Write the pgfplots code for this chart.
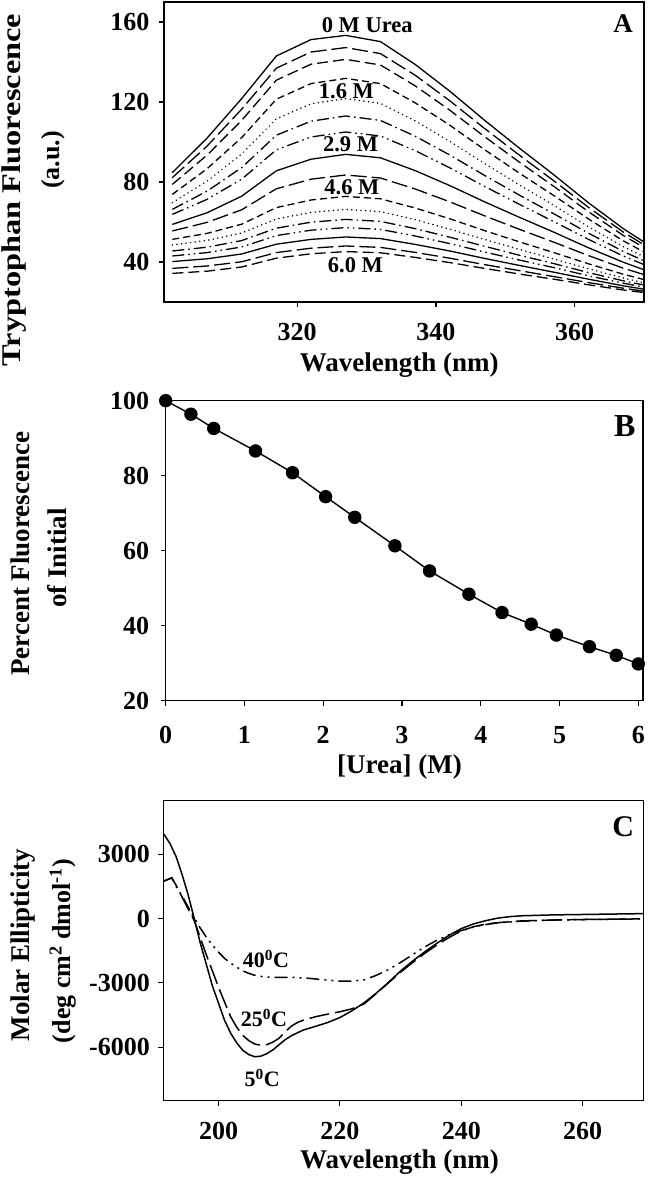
\documentclass[border=0pt]{standalone}
\usepackage{fontspec}
\setmainfont{Liberation Serif}
\usepackage{graphicx}
\usepackage{pgfplots}
\usepackage{pgfplotstable}
\pgfplotsset{compat=1.18}

\pgfplotstableread{
nm  c1    c2    c3    c4    c5    c6    c7    c8   c9   c10  c11  c12  c13  c14  c15  c16
302 84.7  82.2  78.8  73.8  69.7  66.3  63.8  58.8 55.5 51.3 48.5 45.5 43.0 40.2 36.8 34.3
307 101.9 97.9  93.4  86.6  80.4  75.4  71.3  64.6 59.8 54.3 50.8 47.4 44.7 41.6 38.0 35.4
312 121.7 116.4 110.8 102.2 94.0  87.2  81.4  72.9 66.1 58.9 54.5 50.7 47.5 44.0 40.1 37.5
317 143.0 136.9 130.9 121.4 111.6 103.4 96.1  85.6 76.6 67.2 61.5 56.9 53.2 48.9 44.7 41.9
322 151.2 145.0 138.9 129.2 119.1 110.4 102.5 91.4 81.4 71.0 64.8 59.9 55.9 51.3 46.9 44.1
327 153.3 147.2 141.3 131.8 121.7 113.0 105.0 93.8 83.5 72.8 66.3 61.3 57.2 52.5 48.0 45.2
332 150.2 144.2 138.5 129.2 119.3 110.8 103.0 92.1 82.0 71.6 65.2 60.3 56.3 51.7 47.3 44.6
337 138.8 133.4 128.1 119.6 110.6 102.9 95.7  85.7 76.5 67.0 61.2 56.7 53.0 48.8 44.8 42.3
342 125.4 120.6 115.9 108.4 100.3 93.5  87.1  78.2 70.1 61.6 56.4 52.4 49.2 45.5 41.9 39.7
347 110.9 106.8 102.7 96.2  89.3  83.3  77.8  70.1 63.1 55.7 51.3 47.9 45.0 41.8 38.7 36.8
352 97.0  93.5  90.0  84.5  78.6  73.5  68.9  62.4 56.4 50.1 46.3 43.4 41.0 38.3 35.7 34.0
357 83.6  80.6  77.8  73.2  68.3  64.1  60.2  54.9 49.9 44.7 41.5 39.2 37.2 34.9 32.7 31.4
362 69.6  67.3  65.1  61.5  57.6  54.4  51.3  47.1 43.2 39.1 36.6 34.7 33.1 31.4 29.7 28.6
367 56.7  55.0  53.3  50.6  47.7  45.3  43.0  39.9 36.9 33.9 32.0 30.6 29.4 28.1 26.9 26.0
370 50.0  48.6  47.2  45.0  42.6  40.6  38.7  36.1 33.7 31.2 29.6 28.5 27.5 26.4 25.4 24.7
}\tblA

\pgfplotstableread{
urea pct
0.00 100
0.32 96.4
0.61 92.6
1.14 86.6
1.61 80.8
2.03 74.4
2.40 68.9
2.91 61.3
3.35 54.6
3.85 48.4
4.27 43.5
4.64 40.4
4.96 37.5
5.38 34.4
5.72 32.1
6.00 29.8
}\tblB

\pgfplotstableread{
nm theta
191.0 3940
192.0 3500
193.0 2900
194.0 2050
195.0 1100
196.0 0
197.0 -1150
198.0 -2150
199.0 -3150
200.0 -3950
201.0 -4750
202.0 -5350
203.0 -5800
204.0 -6150
205.0 -6350
206.0 -6450
207.0 -6420
208.0 -6300
209.0 -6120
210.0 -5880
211.0 -5650
212.0 -5470
213.0 -5330
214.0 -5200
216.0 -5030
218.0 -4850
220.0 -4620
222.0 -4300
224.0 -3930
226.0 -3480
228.0 -2980
230.0 -2450
232.0 -1980
234.0 -1550
236.0 -1150
238.0 -780
240.0 -470
242.0 -250
244.0 -100
246.0 20
248.0 90
250.0 130
255.0 170
260.0 190
265.0 210
270.0 230
}\tblCfive

\pgfplotstableread{
nm theta
191.0 1750
192.3 1900
193.0 1560
194.0 1000
195.0 450
196.0 -100
197.0 -900
198.0 -1700
199.0 -2450
200.0 -3200
201.0 -3900
202.0 -4580
203.0 -5070
204.0 -5450
205.0 -5700
206.0 -5860
207.0 -5910
208.0 -5880
209.0 -5760
210.0 -5580
211.0 -5280
212.0 -5020
213.0 -4850
214.0 -4740
216.0 -4580
218.0 -4460
220.0 -4350
222.0 -4210
224.0 -3980
226.0 -3500
228.0 -3000
230.0 -2500
232.0 -2050
234.0 -1620
236.0 -1230
238.0 -880
240.0 -580
242.0 -380
244.0 -260
246.0 -190
250.0 -110
255.0 -70
260.0 -45
265.0 -30
270.0 -15
}\tblCtwentyfive

\pgfplotstableread{
nm theta
191.0 1750
192.3 1900
193.0 1500
194.0 1050
195.0 530
196.0 40
197.0 -450
198.0 -870
199.0 -1240
200.0 -1570
201.0 -1860
202.0 -2080
203.0 -2270
204.0 -2440
205.0 -2560
206.0 -2650
207.0 -2700
209.0 -2750
212.0 -2740
215.0 -2790
217.0 -2850
220.0 -2920
222.0 -2920
224.0 -2860
226.0 -2650
228.0 -2380
230.0 -2050
232.0 -1680
234.0 -1320
236.0 -1010
238.0 -760
240.0 -560
242.0 -400
244.0 -280
246.0 -200
250.0 -120
255.0 -70
260.0 -45
265.0 -30
270.0 -15
}\tblCforty

\tikzset{
  lsolid/.style={solid},
  lldash/.style={dash pattern=on 16pt off 5pt},
  lmdash/.style={dash pattern=on 11pt off 5pt},
  lsdash/.style={dash pattern=on 7pt off 4pt},
  ldot/.style={line cap=round, dash pattern=on 0.1pt off 4.5pt, line width=1.6pt},
  ldd/.style={dash pattern=on 12pt off 4pt on 1.5pt off 4pt},
  lddd/.style={dash pattern=on 12pt off 4pt on 1.5pt off 4pt on 1.5pt off 4pt},
}

\pgfplotsset{
  every axis/.append style={
    scale only axis,
    clip mode=individual,
    axis line style={line width=1.4pt},
    tick style={line width=1.2pt, black},
    major tick length=5pt,
    tick align=outside,
    xtick pos=left, ytick pos=left,
    tick label style={font=\fontsize{26}{26}\selectfont\bfseries},
    /pgf/number format/assume math mode=true,
    /pgf/number format/1000 sep={},
    label style={font=\fontsize{27}{30}\selectfont\bfseries},
    scaled ticks=false,
  },
}

\begin{document}
\begin{tikzpicture}
\useasboundingbox (0,0) rectangle (648pt,1182pt);

% ---------------- Panel A ----------------
\begin{axis}[
  at={(164pt,880pt)}, anchor=south west,
  width=480pt, height=300pt,
  xmin=300.8, xmax=370, ymin=20, ymax=170,
  xtick={320,340,360}, ytick={40,80,120,160},
  xticklabel style={yshift=-13pt},
  yticklabel style={xshift=-6pt},
  xlabel={Wavelength (nm)},
  xlabel style={at={(axis description cs:0.49,-0.21)}, anchor=center},
  ylabel={\scalebox{1.2}[1]{Tryptophan Fluorescence}},
  ylabel style={at={(axis description cs:-0.3125,0.373)}, anchor=center},
  every axis plot/.append style={black, line width=1.3pt},
]
\addplot[lsolid] table[x=nm,y=c1]{\tblA};
\addplot[lldash] table[x=nm,y=c2]{\tblA};
\addplot[lmdash] table[x=nm,y=c3]{\tblA};
\addplot[lsdash] table[x=nm,y=c4]{\tblA};
\addplot[ldot]   table[x=nm,y=c5]{\tblA};
\addplot[ldd]    table[x=nm,y=c6]{\tblA};
\addplot[lddd]   table[x=nm,y=c7]{\tblA};
\addplot[lsolid] table[x=nm,y=c8]{\tblA};
\addplot[lldash] table[x=nm,y=c9]{\tblA};
\addplot[lsdash] table[x=nm,y=c10]{\tblA};
\addplot[ldot]   table[x=nm,y=c11]{\tblA};
\addplot[ldd]    table[x=nm,y=c12]{\tblA};
\addplot[lddd]   table[x=nm,y=c13]{\tblA};
\addplot[lsolid] table[x=nm,y=c14]{\tblA};
\addplot[lldash] table[x=nm,y=c15]{\tblA};
\addplot[lmdash] table[x=nm,y=c16]{\tblA};
\node[rotate=90, font=\fontsize{26}{30}\selectfont\bfseries, anchor=center]
  at (axis description cs:-0.231,0.473) {(a.u.)};
\node[font=\fontsize{27}{27}\selectfont\bfseries] at (axis cs:367.0,159) {A};
\begin{scope}[every node/.style={font=\fontsize{22.5}{22.5}\selectfont\bfseries}]
\node at (axis cs:330.1,158.5) {0 M Urea};
\node at (axis cs:327.1,125.6) {1.6 M};
\node at (axis cs:327.7,98.7) {2.9 M};
\node at (axis cs:327.9,77.3) {4.6 M};
\node at (axis cs:328.4,38.2) {6.0 M};
\end{scope}
\end{axis}

% ---------------- Panel B ----------------
\begin{axis}[
  at={(165.7pt,481.3pt)}, anchor=south west,
  width=477.3pt, height=300pt,
  xmin=0, xmax=6.06, ymin=20, ymax=100,
  xtick={0,1,2,3,4,5,6}, ytick={20,40,60,80,100},
  xticklabel style={yshift=-17pt},
  yticklabel style={xshift=-8pt},
  xlabel={[Urea] (M)},
  xlabel style={at={(axis description cs:0.49,-0.221)}, anchor=center},
  ylabel={Percent Fluorescence},
  ylabel style={at={(axis description cs:-0.305,0.49)}, anchor=center},
  clip=false,
]
\addplot[black, line width=1.4pt, mark=*, mark size=6pt, mark options={solid, fill=black}]
  table[x=urea,y=pct]{\tblB};
\node[rotate=90, font=\fontsize{27}{30}\selectfont\bfseries, anchor=center]
  at (axis description cs:-0.228,0.476) {of Initial};
\node[font=\fontsize{32}{32}\selectfont\bfseries] at (axis cs:5.83,93.3) {B};
\end{axis}

% ---------------- Panel C ----------------
\begin{axis}[
  at={(163.3pt,81.3pt)}, anchor=south west,
  width=480pt, height=300pt,
  xmin=190.9, xmax=270, ymin=-8500, ymax=5500,
  xtick={200,220,240,260}, ytick={-6000,-3000,0,3000},
  xticklabel style={yshift=-13pt},
  yticklabel style={xshift=-5pt},
  xlabel={Wavelength (nm)},
  xlabel style={at={(axis description cs:0.492,-0.206)}, anchor=center},
  ylabel={Molar Ellipticity},
  ylabel style={at={(axis description cs:-0.292,0.519)}, anchor=center},
  every axis plot/.append style={black, line width=1.5pt},
]
\addplot[lsolid] table[x=nm,y=theta]{\tblCfive};
\addplot[dash pattern=on 20pt off 6pt] table[x=nm,y=theta]{\tblCtwentyfive};
\addplot[dash pattern=on 13pt off 5pt on 2pt off 5pt on 2pt off 5pt] table[x=nm,y=theta]{\tblCforty};
\node[rotate=90, font=\fontsize{26}{30}\selectfont\bfseries, anchor=center]
  at (axis description cs:-0.209,0.499) {(deg cm\textsuperscript{2} dmol\textsuperscript{-1})};
\node[font=\fontsize{30}{30}\selectfont\bfseries] at (axis cs:266.7,4300) {C};
\begin{scope}[every node/.style={font=\fontsize{22}{22}\selectfont\bfseries}]
\node at (axis cs:207.8,-1888) {40\textsuperscript{0}C};
\node at (axis cs:207.5,-4641) {25\textsuperscript{0}C};
\node at (axis cs:207.2,-7441) {5\textsuperscript{0}C};
\end{scope}
\end{axis}
\end{tikzpicture}
\end{document}
